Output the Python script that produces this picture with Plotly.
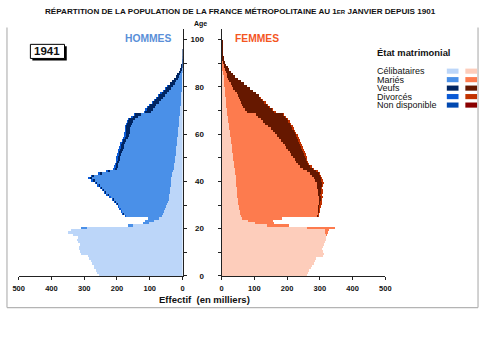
import plotly.graph_objects as go

W, H = 485, 349


def px(x):
    return x / W


def py(y):
    return 1 - y / H


AGES = list(range(101))

# ---------------- HOMMES (milliers) ----------------
MEN_CELIB = [
    256, 262, 265, 270, 272, 276, 280, 285, 290, 310, 313, 316, 318, 315, 320, 322, 320, 334, 350, 342,
    292, 152, 102, 88, 72,
    65, 62, 57, 53, 50,
    47, 45, 43, 42, 41,
    40, 39, 38, 37, 36,
    36, 35, 34, 32, 30,
    28, 27, 26, 25, 24,
    23, 22, 21, 21, 20,
    19, 18, 17, 17, 16,
    15, 15, 14, 13, 13,
    12, 12, 11, 10, 9,
    8, 8, 7, 7, 6,
    6, 5, 5, 4, 4,
    3, 3, 3, 2, 2,
    2, 1, 1, 1, 0.5,
    0.3, 0.2, 0.1, 0, 0,
    0, 0, 0, 0, 0, 0,
]
MEN_MARIES = [
    0, 0, 0, 0, 0, 0, 0, 0, 0, 0, 0, 0, 0, 0, 0, 0, 0, 0, 0, 0,
    18, 15, 20, 27, 35,
    109.5, 120.5, 129.5, 137, 145,
    153, 161.5, 169.5, 178, 187,
    195.5, 202, 209, 217.5, 226,
    235, 244, 238, 216, 194,
    175, 173, 171.5, 170, 169,
    168, 167, 165, 163, 161,
    160, 159, 155, 150, 147,
    147, 146, 146, 145, 142,
    139, 135, 125, 117, 89,
    84, 78.5, 73.5, 66.5, 61.5,
    55.5, 50.5, 43.5, 38.5, 32.5,
    27.5, 22, 17, 14, 10,
    7, 5.5, 3, 1.5, 1,
    0.3, 0.1, 0, 0, 0,
    0, 0, 0, 0, 0, 0,
]
MEN_VEUFS = [
    0, 0, 0, 0, 0, 0, 0, 0, 0, 0, 0, 0, 0, 0, 0, 0, 0, 0, 0, 0,
    0, 0, 0, 0, 0,
    0.5, 0.5, 0.5, 1, 1,
    1, 1.5, 1.5, 2, 2,
    2.5, 3, 3, 3.5, 4,
    5, 6, 6, 6, 6,
    6, 6, 6.5, 7, 7,
    8, 8, 9, 9, 10,
    10, 11, 12, 12, 13,
    14, 14, 15, 16, 17,
    18, 18, 19, 19, 19,
    20, 20, 20, 20, 19,
    19, 18, 18, 17, 16,
    15, 14, 13, 11, 10,
    8, 6.5, 5, 3.5, 2.5,
    1.4, 0.7, 0.4, 0.3, 0.2,
    0.1, 0, 0, 0, 0, 0,
]
MEN_DIVORCES = [
    0, 0, 0, 0, 0, 0, 0, 0, 0, 0, 0, 0, 0, 0, 0, 0, 0, 0, 0, 0,
    0, 0, 0, 0, 0,
    1, 1, 1, 1, 1,
    2, 2, 2, 2, 2,
    2, 2, 2, 2, 2,
    2, 2, 2, 2, 2,
    2, 2, 2, 2, 2,
    2, 2, 2, 2, 2,
    2, 1, 1, 1, 1,
    1, 1, 1, 1, 1,
    1, 1, 1, 1, 1,
    1, 0.5, 0.5, 0.5, 0.5,
    0.5, 0.5, 0.5, 0.5, 0.5,
    0.5, 0, 0, 0, 0,
    0, 0, 0, 0, 0,
    0, 0, 0, 0, 0,
    0, 0, 0, 0, 0, 0,
]

# ---------------- FEMMES (milliers) ----------------
WOMEN_CELIB = [
    258, 262, 266, 271, 275, 280, 284, 288, 308, 312, 308, 306, 309, 312, 314, 316, 318, 319, 317, 314,
    259, 136, 100, 78, 62,
    58, 56, 54, 52, 51,
    50, 49, 48, 47, 47,
    46, 45, 45, 44, 44,
    43, 42, 42, 41, 40,
    39, 38, 37, 36, 35,
    34, 33, 32, 31, 30,
    29, 28, 27, 26, 25,
    24, 23, 22, 21, 20,
    19, 18, 17, 16, 15,
    14, 13, 13, 12, 12,
    11, 10, 10, 9, 8,
    7, 7, 6, 5, 5,
    4, 3, 3, 2, 2,
    1.5, 1, 0.7, 0.5, 0.3,
    0.2, 0.1, 0.1, 0, 0, 0,
]
WOMEN_MARIEES = [
    0, 0, 0, 0, 0, 0, 0, 0, 0, 0, 0, 0, 0, 0, 0, 0, 0, 1, 5, 12,
    86, 69, 58, 77, 122,
    233, 237, 239, 243, 244,
    246, 247, 248, 250, 245,
    247, 247, 244, 246, 245,
    242, 239, 234, 228, 219,
    209, 201, 195, 191, 187,
    183, 179, 175, 170, 165,
    162, 157, 152, 148, 144,
    139, 133, 126, 120, 112,
    106, 100, 94, 87, 62,
    57, 52, 48, 45, 42,
    40, 39, 35, 32, 27,
    24, 19, 16, 13, 11,
    10, 8, 6, 5, 3,
    2, 1, 0.5, 0.2, 0.1,
    0.1, 0, 0, 0, 0, 0,
]
WOMEN_VEUVES = [
    0, 0, 0, 0, 0, 0, 0, 0, 0, 0, 0, 0, 0, 0, 0, 0, 0, 0, 0, 0,
    0, 0, 0, 0, 0,
    2, 2, 3, 3, 4,
    5, 6, 7, 8, 10,
    11, 13, 14, 16, 18,
    20, 22, 24, 27, 29,
    30, 31, 31, 33, 35,
    38, 40, 42, 45, 48,
    50, 52, 54, 56, 58,
    60, 64, 68, 72, 76,
    79, 81, 83, 84, 84,
    82, 80, 77, 74, 70,
    67, 63, 59, 55, 51,
    45, 40, 35, 30, 24,
    19, 16, 13, 10, 8,
    5.5, 4, 2.8, 1.8, 1.1,
    0.7, 0.4, 0.2, 0.1, 0.1, 0,
]
WOMEN_DIVORCEES = [
    0, 0, 0, 0, 0, 0, 0, 0, 0, 0, 0, 0, 0, 0, 0, 0, 0, 0, 0, 0,
    0, 0, 0, 0, 0,
    1, 1, 1, 1, 1,
    2, 2, 2, 2, 2,
    2, 2, 2, 2, 2,
    2, 2, 2, 2, 2,
    2, 2, 2, 2, 2,
    2, 2, 2, 2, 2,
    2, 2, 2, 2, 2,
    2, 1, 1, 1, 1,
    1, 1, 1, 1, 1,
    1, 1, 1, 1, 1,
    1, 0, 0, 0, 0,
    0, 0, 0, 0, 0,
    0, 0, 0, 0, 0,
    0, 0, 0, 0, 0,
    0, 0, 0, 0, 0, 0,
]

STATUS_LABELS = ["Célibataires", "Mariés", "Veufs", "Divorcés", "Non disponible"]
MEN_COLORS = ["#bcd6f9", "#4a90e8", "#002562", "#0a5ad6", "#0048b0"]
WOMEN_COLORS = ["#fdcdbb", "#fd7b4e", "#661800", "#c23200", "#8a0000"]
X_TICKS = [0, 100, 200, 300, 400, 500]
AGE_TICKS = [0, 10, 20, 30, 40, 50, 60, 70, 80, 90, 100]
AGE_TEXT = ["0", "", "20", "", "40", "", "60", "", "80", "", "100"]

FONT = "Liberation Sans"

fig = go.Figure()
YPOS = [a + 0.5 for a in AGES]

men_series = [MEN_CELIB, MEN_MARIES, MEN_VEUFS, MEN_DIVORCES]
women_series = [WOMEN_CELIB, WOMEN_MARIEES, WOMEN_VEUVES, WOMEN_DIVORCEES]

for i, vals in enumerate(men_series):
    fig.add_trace(go.Bar(y=YPOS, x=vals, orientation="h", width=1,
                         marker=dict(color=MEN_COLORS[i], line=dict(width=0)),
                         xaxis="x", yaxis="y", name=STATUS_LABELS[i], showlegend=False))
for i, vals in enumerate(women_series):
    fig.add_trace(go.Bar(y=YPOS, x=vals, orientation="h", width=1,
                         marker=dict(color=WOMEN_COLORS[i], line=dict(width=0)),
                         xaxis="x2", yaxis="y2", name=STATUS_LABELS[i], showlegend=False))

axis_common = dict(showgrid=False, zeroline=False, showline=True, linecolor="#222",
                   linewidth=1, ticks="outside", ticklen=3, tickcolor="#222", tickwidth=1)
xfont = dict(family=FONT, size=7.5, color="#111", weight="bold")

ydom = [py(280), py(29)]
fig.update_layout(
    width=W, height=H, margin=dict(l=0, r=0, t=0, b=0),
    paper_bgcolor="white", plot_bgcolor="white",
    barmode="stack", bargap=0, showlegend=False,
    xaxis=dict(domain=[px(13), px(181)], range=[500, 0], anchor="y",
               tickvals=X_TICKS, tickfont=xfont, ticklabelstandoff=2, **axis_common),
    xaxis2=dict(domain=[px(221), px(389)], range=[0, 500], anchor="y2",
                tickvals=X_TICKS, tickfont=xfont, ticklabelstandoff=2, **axis_common),
    yaxis=dict(domain=ydom, range=[0, 104.6], anchor="x", side="right",
               tickvals=AGE_TICKS, showticklabels=False, **axis_common),
    yaxis2=dict(domain=ydom, range=[0, 104.6], anchor="x2", side="left", matches="y",
                tickvals=AGE_TICKS, ticktext=AGE_TEXT, ticklabelstandoff=12,
                tickfont=dict(family=FONT, size=8, color="#111", weight="bold"), **axis_common),
)

ann = []


def text(x, y, s, size, color="#111", bold=True, xanchor="center", family=FONT):
    ann.append(dict(x=px(x), y=py(y), xref="paper", yref="paper", text=s, showarrow=False,
                    xanchor=xanchor, yanchor="middle",
                    font=dict(family=family, size=size, color=color,
                              weight="bold" if bold else "normal")))


text(240, 12, "RÉPARTITION DE LA POPULATION DE LA FRANCE MÉTROPOLITAINE AU 1"
     "<span style='font-size:6px'>ER</span> JANVIER DEPUIS 1901", 8.1)
text(199, 24, "Age", 7)
text(146, 39, "HOMMES", 10.3, color="#5a8fd8")
text(257, 39, "FEMMES", 10.3, color="#f4561f")
text(42.5, 52, "1941", 11.5)
text(204, 304, "Effectif  (en milliers)", 9.5)
text(378, 53, "État matrimonial", 9.4, xanchor="left")

shapes = []
# frame
for (x0, y0, x1, y1) in [(1, 28, 1, 312), (1, 312, 484, 312), (484, 28, 484, 312)]:
    shapes.append(dict(type="line", xref="paper", yref="paper", x0=px(x0), y0=py(y0),
                       x1=px(x1), y1=py(y1), line=dict(color="#b4b4b4", width=1.2)))
# 1941 box
shapes.append(dict(type="rect", xref="paper", yref="paper", x0=px(27), y0=py(61.5),
                   x1=px(62.3), y1=py(47), fillcolor="#000", line=dict(width=0)))
shapes.append(dict(type="rect", xref="paper", yref="paper", x0=px(25), y0=py(59.3),
                   x1=px(60), y1=py(45), fillcolor="white", line=dict(color="#000", width=1)))

rows = [72.2, 80.8, 89.4, 98.0, 106.6]
for i, lab in enumerate(STATUS_LABELS):
    yc = rows[i]
    text(378, yc, lab, 9.0, bold=False, xanchor="left")
    shapes.append(dict(type="rect", xref="paper", yref="paper", x0=px(452), x1=px(464),
                       y0=py(yc + 2.6), y1=py(yc - 2.6), fillcolor=MEN_COLORS[i], line=dict(width=0)))
    shapes.append(dict(type="rect", xref="paper", yref="paper", x0=px(471), x1=px(483),
                       y0=py(yc + 2.6), y1=py(yc - 2.6), fillcolor=WOMEN_COLORS[i], line=dict(width=0)))

fig.update_layout(annotations=ann, shapes=shapes)
fig.write_html("out.html")
